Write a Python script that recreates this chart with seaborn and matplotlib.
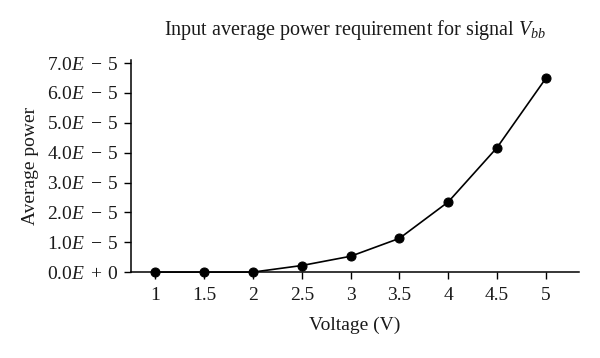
import matplotlib
matplotlib.use("Agg")
import matplotlib.pyplot as plt
import pandas as pd
import seaborn as sns

voltage = [1, 1.5, 2, 2.5, 3, 3.5, 4, 4.5, 5]
avg_power = [0.0, 0.0, 0.0, 0.22e-5, 0.53e-5, 1.13e-5, 2.35e-5, 4.17e-5, 6.49e-5]
x_ticks = [1, 1.5, 2, 2.5, 3, 3.5, 4, 4.5, 5]
x_tick_labels = ["1", "1.5", "2", "2.5", "3", "3.5", "4", "4.5", "5"]
y_ticks = [0, 1e-5, 2e-5, 3e-5, 4e-5, 5e-5, 6e-5, 7e-5]
y_tick_labels = [r"$0.0E\;+\;0$", r"$1.0E\;-\;5$", r"$2.0E\;-\;5$", r"$3.0E\;-\;5$",
                 r"$4.0E\;-\;5$", r"$5.0E\;-\;5$", r"$6.0E\;-\;5$", r"$7.0E\;-\;5$"]

sns.set_theme(style="ticks")
plt.rcParams["font.family"] = ["Liberation Serif", "DejaVu Serif"]
plt.rcParams["mathtext.fontset"] = "custom"
plt.rcParams["mathtext.rm"] = "Liberation Serif"
plt.rcParams["mathtext.it"] = "Liberation Serif:italic"

df = pd.DataFrame({"voltage": voltage, "power": avg_power})

fig = plt.figure(figsize=(6, 3.58), dpi=100)
ax = fig.add_axes([0.218, 0.240, 0.747, 0.592])
sns.lineplot(data=df, x="voltage", y="power", ax=ax, color="black",
             linewidth=1.2, marker="o", markersize=6.5, markeredgecolor="black",
             clip_on=False)

ax.set_xlim(0.747, 5.34)
ax.set_ylim(0, 7.1e-5)
ax.set_xticks(x_ticks)
ax.set_xticklabels(x_tick_labels)
ax.set_yticks(y_ticks)
ax.set_yticklabels(y_tick_labels)
ax.tick_params(axis="both", direction="out", length=5, width=1, color="black",
               labelsize=14, labelcolor="#1a1a1a")
ax.tick_params(axis="x", pad=6)
for side in ["top", "right"]:
    ax.spines[side].set_visible(False)
for side in ["left", "bottom"]:
    ax.spines[side].set_color("black")
    ax.spines[side].set_linewidth(1.1)

ax.set_xlabel("Voltage (V)", fontsize=14, color="#1a1a1a", labelpad=9)
ax.set_ylabel("Average power", fontsize=14, color="#1a1a1a", labelpad=6)
ax.set_title(r"Input average power requirement for signal $V_{bb}$",
             fontsize=14.5, color="#1a1a1a", pad=18)

fig.savefig("out.png", dpi=100)
